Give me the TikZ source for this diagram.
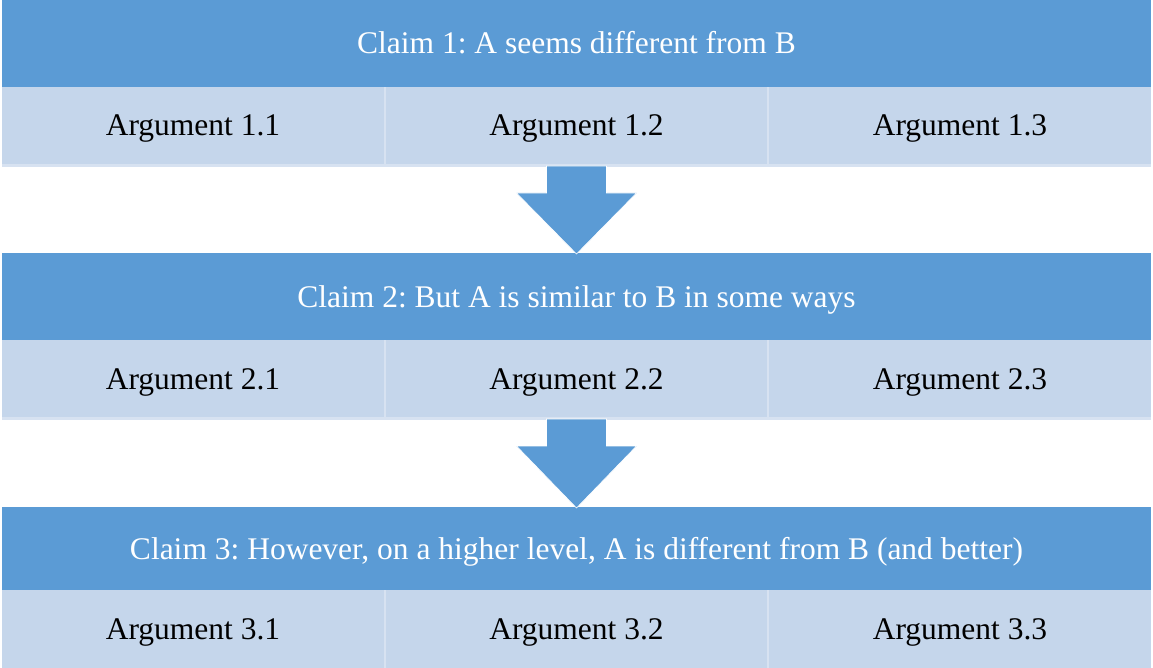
\documentclass[tikz,border=0pt]{standalone}
\usepackage{fontspec}
\setmainfont{Liberation Serif}
\frenchspacing
\usetikzlibrary{calc}
\definecolor{claimblue}{HTML}{5B9BD5}
\definecolor{argblue}{HTML}{C5D6EB}
\definecolor{sepblue}{HTML}{D7E2F1}
\newcommand{\boxfont}{\fontsize{31.5}{36}\selectfont}
\tikzset{
  cell/.style={rectangle, inner sep=0pt, outer sep=0pt, anchor=north west, font=\boxfont,
    text height=21pt, text depth=0pt},
  claimbox/.style={cell, fill=claimblue, text=white},
  rowbox/.style={cell, fill=sepblue},
  argbox/.style={cell, fill=argblue, text=black},
  blockarrow/.style={fill=claimblue, draw=white, line width=0.6pt, line join=miter},
}
% one claim bar with its row of three arguments
% #1 name prefix, #2 top y, #3 claim height, #4 row height, #5 claim text, #6 argument number
\newcommand{\claimblock}[6]{
  \node[claimbox, minimum width=1149pt, minimum height=#3pt] (#1c) at (2,#2) {#5};
  \node[rowbox, minimum width=1149pt, minimum height=#4pt] (#1r) at (2,#2+#3) {};
  \node[argbox, minimum width=382pt, minimum height=#4pt-3pt] (#1a) at (2,#2+#3) {Argument #6.1};
  \node[argbox, minimum width=381pt, minimum height=#4pt-3pt] (#1b) at (386,#2+#3) {Argument #6.2};
  \node[argbox, minimum width=382pt, minimum height=#4pt-3pt] (#1d) at (769,#2+#3) {Argument #6.3};
}
% block arrow from the bottom of a row down to the top of the next claim
\newcommand{\flowarrow}[2]{
  \fill[blockarrow] ($(#1.south)+(-30,-1)$) -- ($(#1.south)+(-30,26)$) -- ($(#1.south)+(-60,26)$)
    -- ($(#2.north)+(0,1)$) -- ($(#1.south)+(60,26)$) -- ($(#1.south)+(30,26)$)
    -- ($(#1.south)+(30,-1)$) -- cycle;
}
\begin{document}
\begin{tikzpicture}[x=1pt, y=-1pt]
  \useasboundingbox (0,0) rectangle (1153,668);
  \fill[white] (0,0) rectangle (1153,668);
  \claimblock{one}{0}{87}{80}{Claim 1: A seems different from B}{1}
  \claimblock{two}{253}{87}{80}{Claim 2: But A is similar to B in some ways}{2}
  \claimblock{three}{507}{83}{81}{Claim 3: However, on a higher level, A is different from B (and better)}{3}
  \flowarrow{oner}{twoc}
  \flowarrow{twor}{threec}
\end{tikzpicture}
\end{document}
